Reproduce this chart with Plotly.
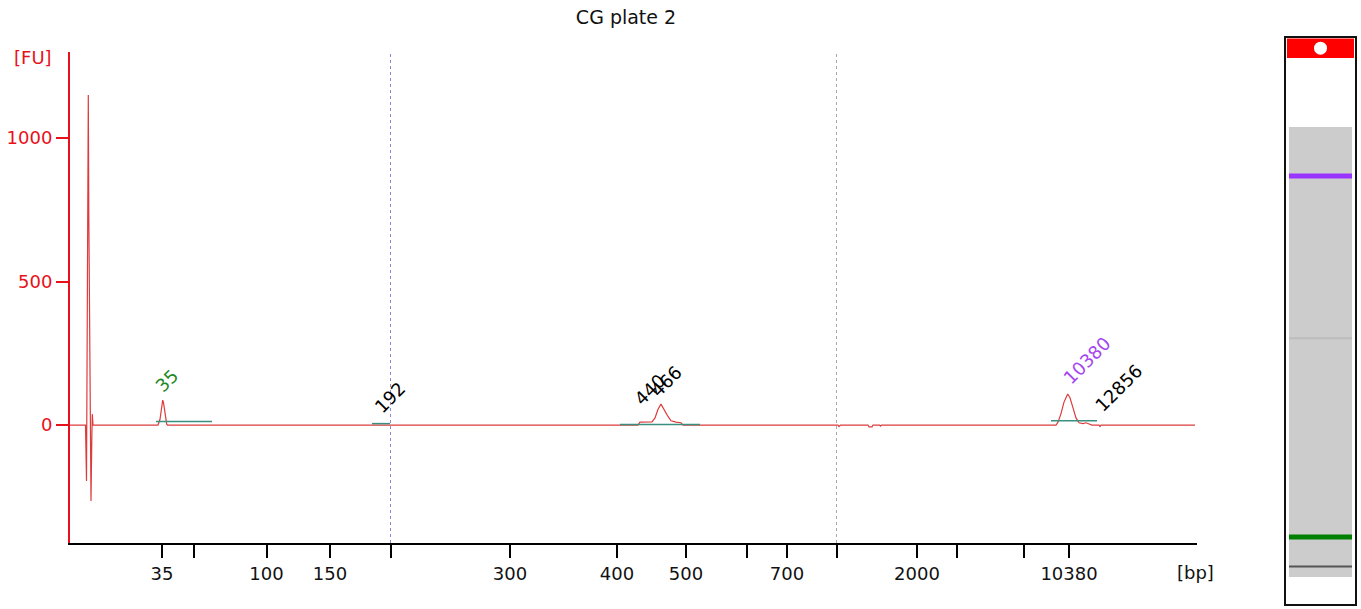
import plotly.graph_objects as go

# electropherogram, x = migration time (s), y = fluorescence (FU)
LADDER_BP = [35, 50, 100, 150, 200, 300, 400, 500, 600, 700, 1000, 2000, 3000, 7000, 10380]
LADDER_T = [29.2, 32.35, 39.65, 46.0, 52.05, 64.0, 74.7, 81.6, 87.65, 91.7, 96.65, 104.7, 108.7, 115.35, 119.9]
LADDER_SHOWN = [35, 100, 150, 300, 400, 500, 700, 2000, 10380]

TRACE_T = [20.0, 21.55, 21.65, 21.7, 21.78, 21.83, 21.88, 21.95, 22.03, 22.1, 22.18, 22.23, 22.3,
           28.8, 29.0, 29.15, 29.27, 29.35, 29.45, 29.55, 29.67, 29.75,
           50.4, 50.6, 51.0, 51.8, 52.2,
           76.8, 77.0, 78.2, 78.5, 78.8, 79.1, 79.3, 79.5, 79.8, 80.1, 80.6, 81.1, 81.3,
           96.8, 96.9, 97.05, 99.8, 99.9, 100.2, 100.3, 100.95, 101.05, 101.15,
           118.6, 118.8, 119.1, 119.4, 119.77, 120.0, 120.3, 120.6, 120.9, 121.3, 121.6,
           121.9, 122.2, 122.9, 123.0, 123.1,
           132.5]
TRACE_FU = [0, 0, -195, 400, 750, 1150, 740, 450, -130, -265, -50, 38, 0,
            0, 20, 60, 87, 78, 55, 20, 3, 0,
            0, 0, 2, 1, 0,
            0, 10, 11, 25, 55, 73, 60, 45, 30, 15, 10, 8, 0,
            0, -5, 0, 0, -6, -6, 0, 0, -4, 0,
            0, 10, 40, 80, 108, 95, 60, 25, 8, 5, 8,
            3, 0, 0, -5, 0,
            0]

# peak integration baselines (start, end, level)
BASE_START = [28.6, 50.2, 75.0, 118.1]
BASE_END = [34.2, 52.0, 83.0, 122.7]
BASE_FU = [12, 5, 2, 15]

# peak labels
PEAK_LABEL = ["35", "192", "440", "466", "10380", "12856"]
PEAK_T = [29.27, 51.8, 78.0, 79.1, 119.77, 123.0]
PEAK_FU = [87, 1, 11, 73, 108, 0]
PEAK_COLOR = ["#1f8a1f", "black", "black", "black", "#a546f0", "black"]
LABEL_SHIFT = [(4, 20), (2, 27), (0, 32), (5, 23), (19, 34), (18, 37)]

# region markers
MARK_T = [52.05, 96.65]
MARK_COLOR = ["#8e86d8", "#a8a8a8"]

# gel lane bands (same time scale)
BAND_T = [119.9, 79.1, 29.2, 21.8]
BAND_COLOR = ["#9933ff", "#bdbdbd", "#008000", "#555555"]
BAND_WIDTH = [5, 2, 5, 2]
GEL_T = [19.15, 132.2]

RED = "#e8101a"
FONT = "DejaVu Sans"

fig = go.Figure()

fig.add_trace(go.Scatter(x=TRACE_T, y=TRACE_FU, mode="lines",
                         line=dict(color="#dc3c3c", width=1.2), hoverinfo="skip"))

for t0, t1, lv in zip(BASE_START, BASE_END, BASE_FU):
    fig.add_trace(go.Scatter(x=[t0, t1], y=[lv, lv], mode="lines",
                             line=dict(color="#3a8f80", width=1.5), hoverinfo="skip"))

for t, c in zip(MARK_T, MARK_COLOR):
    fig.add_trace(go.Scatter(x=[t, t], y=[-411, 1300], mode="lines",
                             line=dict(color=c, width=1, dash="dot"), hoverinfo="skip"))

for lab, t, fu, c, (dx, dy) in zip(PEAK_LABEL, PEAK_T, PEAK_FU, PEAK_COLOR, LABEL_SHIFT):
    fig.add_annotation(x=t, y=fu, text=lab, showarrow=False, textangle=-45,
                       xshift=dx, yshift=dy, font=dict(size=18, color=c, family=FONT))

# gel lane
fig.add_shape(type="rect", xref="x2", yref="y2", x0=0.056, x1=0.944,
              y0=GEL_T[0], y1=GEL_T[1], fillcolor="#cccccc", line_width=0, layer="below")
fig.add_shape(type="rect", xref="x2", yref="y2", x0=0.028, x1=0.972,
              y0=149.5, y1=154.4, fillcolor="#ff0000", line_width=0, layer="below")
fig.add_shape(type="rect", xref="x2 domain", yref="y2 domain", x0=0, x1=1, y0=0, y1=1,
              line=dict(color="#111111", width=2))
for t, c, w in zip(BAND_T, BAND_COLOR, BAND_WIDTH):
    fig.add_trace(go.Scatter(x=[0.056, 0.944], y=[t, t], mode="lines", xaxis="x2", yaxis="y2",
                             line=dict(color=c, width=w), hoverinfo="skip"))
fig.add_trace(go.Scatter(x=[0.5], y=[152.0], mode="markers", xaxis="x2", yaxis="y2",
                         marker=dict(symbol="circle", size=13, color="white"), hoverinfo="skip"))

ticktext = [str(b) if b in LADDER_SHOWN else "" for b in LADDER_BP]

fig.update_layout(
    width=1361, height=609,
    margin=dict(l=0, r=0, t=0, b=0),
    paper_bgcolor="white", plot_bgcolor="white",
    showlegend=False,
    font=dict(family=FONT, size=18),
    title=dict(text="CG plate 2", x=626 / 1361, y=1 - 17 / 609, xanchor="center",
               yanchor="middle", font=dict(size=19, color="#111111", family=FONT)),
    xaxis=dict(domain=[70 / 1361, 1196.5 / 1361], range=[20, 132.65],
               tickvals=LADDER_T, ticktext=ticktext, ticks="outside", ticklen=13,
               tickwidth=2, tickcolor="black", showline=True, linecolor="black", linewidth=2,
               showgrid=False, zeroline=False, tickfont=dict(size=18, color="#111111")),
    yaxis=dict(domain=[(609 - 543) / 609, (609 - 52) / 609], range=[-411, 1300],
               tickvals=[0, 500, 1000], ticks="outside", ticklen=12, tickwidth=2,
               tickcolor=RED, showline=True, linecolor=RED, linewidth=2,
               showgrid=False, zeroline=False, tickfont=dict(size=18, color=RED)),
    xaxis2=dict(domain=[1285 / 1361, 1356 / 1361], range=[0, 1], visible=False, anchor="y2"),
    yaxis2=dict(domain=[4 / 609, 572 / 609], range=[12.1, 154.8], visible=False,
                anchor="x2"),
)

fig.add_annotation(xref="paper", yref="paper", x=33 / 1361, y=1 - 57 / 609, text="[FU]",
                   xanchor="center", yanchor="middle", showarrow=False,
                   font=dict(size=18, color=RED, family=FONT))
fig.add_annotation(xref="paper", yref="paper", x=1195 / 1361, y=1 - 572 / 609, text="[bp]",
                   xanchor="center", yanchor="middle", showarrow=False,
                   font=dict(size=18, color="#111111", family=FONT))

# drop the page's default body margin so the figure sits at the window's corner
fig.write_html("out.html", config={"displayModeBar": False},
               post_script="document.body.style.margin='0';")
